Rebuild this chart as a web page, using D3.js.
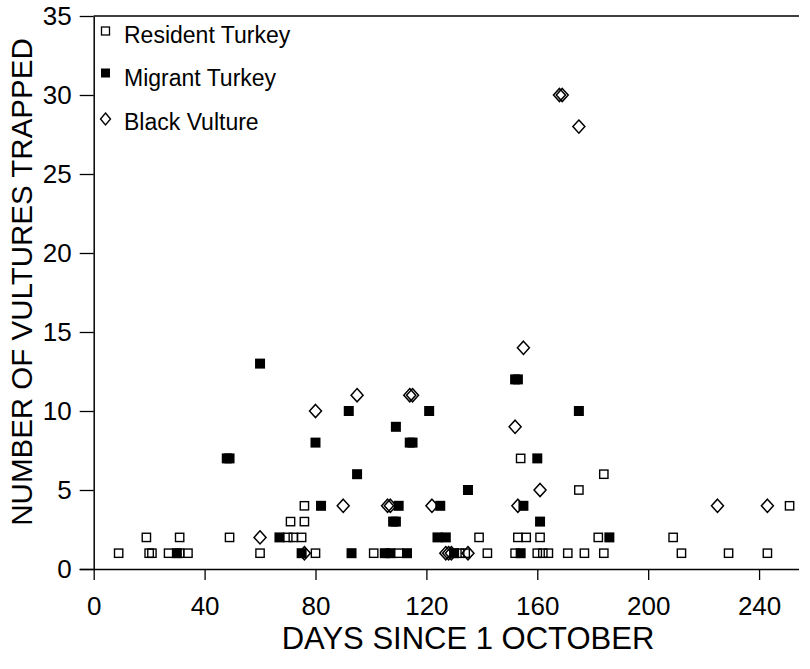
<!DOCTYPE html>
<html>
<head>
<meta charset="utf-8">
<script src="https://cdn.jsdelivr.net/npm/d3@7"></script>
<style>
  html, body { margin: 0; padding: 0; background: #fff; }
  svg { display: block; }
  text { font-family: "Liberation Sans", Arial, Helvetica, sans-serif; fill: #000; }
</style>
</head>
<body>
<svg id="chart" width="810" height="669"></svg>
<script>
// ---- data (day since 1 October, number trapped) ----
const residentTurkey = [
  [9,1],[19,2],[20,1],[21,1],[27,1],[31,2],[31,1],[34,1],[49,2],[60,1],
  [70,2],[72,2],[75,2],[71,3],[76,3],[76,4],[80,1],[101,1],[110,1],[132,1],
  [134,1],[139,2],[142,1],[152,1],[153,2],[156,2],[154,7],[160,1],[161,2],[162,1],
  [164,1],[171,1],[175,5],[177,1],[182,2],[184,1],[184,6],[209,2],[212,1],[229,1],
  [243,1],[251,4]
];
const migrantTurkey = [
  [30,1],[48,7],[49,7],[60,13],[67,2],[75,1],[80,8],[82,4],[92,10],[93,1],
  [95,6],[105,1],[107,1],[108,3],[109,3],[109,9],[110,4],[113,1],[114,8],[115,8],
  [121,10],[124,2],[125,4],[127,2],[130,1],[135,5],[152,12],[153,12],[154,1],[155,4],
  [160,7],[161,3],[175,10],[186,2]
];
const blackVulture = [
  [60,2],[76,1],[80,10],[90,4],[95,11],[106,4],[107,4],[114,11],[115,11],[122,4],
  [127,1],[128,1],[129,1],[135,1],[152,9],[153,4],[155,14],[161,5],[168,30],[169,30],
  [175,28],[225,4],[243,4]
];
const xTicks = [0, 40, 80, 120, 160, 200, 240];
const yTicks = [0, 5, 10, 15, 20, 25, 30, 35];
const legendLabels = ["Resident Turkey", "Migrant Turkey", "Black Vulture"];
const xTitle = "DAYS SINCE 1 OCTOBER";
const yTitle = "NUMBER OF VULTURES TRAPPED";

// ---- layout ----
const svg = d3.select("#chart");
const mLeft = 93.7, mRight = 799, mTop = 16, mBottom = 569;
const x = d3.scaleLinear().domain([0, 254.4]).range([mLeft, mRight]);
const y = d3.scaleLinear().domain([0, 35]).range([mBottom, mTop]);
const font = "'Liberation Sans', Arial, Helvetica, sans-serif";

// top border line
svg.append("line")
  .attr("x1", mLeft).attr("x2", mRight).attr("y1", mTop).attr("y2", mTop)
  .attr("stroke", "#000").attr("stroke-width", 1.4);

// y axis
const yAxis = svg.append("g")
  .attr("transform", `translate(${mLeft},0)`)
  .call(d3.axisLeft(y).tickValues(yTicks).tickSize(14).tickSizeOuter(0).tickPadding(8));
yAxis.select(".domain").attr("stroke-width", 1.5);
yAxis.selectAll(".tick line").attr("stroke-width", 1.3);
yAxis.selectAll(".tick text").attr("font-size", 26).attr("font-family", font);

// x axis
const xAxis = svg.append("g")
  .attr("transform", `translate(0,${mBottom})`)
  .call(d3.axisBottom(x).tickValues(xTicks).tickSize(11).tickSizeOuter(0));
xAxis.select(".domain").attr("d", `M${mLeft - 14},0.5H${mRight}`).attr("stroke-width", 1.5);
xAxis.selectAll(".tick line").attr("stroke-width", 1.3);
xAxis.selectAll(".tick text").attr("font-size", 26).attr("font-family", font)
  .attr("y", 46).attr("dy", null);

// axis titles
svg.append("text")
  .attr("x", 468).attr("y", 649)
  .attr("text-anchor", "middle").attr("font-size", 31)
  .text(xTitle);
svg.append("text")
  .attr("transform", `translate(32,282) rotate(-90)`)
  .attr("text-anchor", "middle").attr("font-size", 29.5)
  .text(yTitle);

// markers
const sq = 8.3;      // open square side
const fsq = 10;      // filled square side
const dw = 6, dh = 6.6; // diamond half width / half height
const diamondPath = `M0,${-dh}L${dw},0L0,${dh}L${-dw},0Z`;

svg.append("g").selectAll("rect")
  .data(residentTurkey).join("rect")
  .attr("x", d => x(d[0]) - sq / 2).attr("y", d => y(d[1]) - sq / 2)
  .attr("width", sq).attr("height", sq)
  .attr("fill", "none").attr("stroke", "#000").attr("stroke-width", 1.4);

svg.append("g").selectAll("path")
  .data(blackVulture).join("path")
  .attr("d", diamondPath)
  .attr("transform", d => `translate(${x(d[0])},${y(d[1])})`)
  .attr("fill", "none").attr("stroke", "#000").attr("stroke-width", 1.5);

svg.append("g").selectAll("rect")
  .data(migrantTurkey).join("rect")
  .attr("x", d => x(d[0]) - fsq / 2).attr("y", d => y(d[1]) - fsq / 2)
  .attr("width", fsq).attr("height", fsq)
  .attr("fill", "#000");

// legend
const lg = svg.append("g");
const lgMarkX = 105.5, lgTextX = 124;
const lgRows = [
  { label: legendLabels[0], my: 31, ty: 43, type: "open" },
  { label: legendLabels[1], my: 73, ty: 86, type: "filled" },
  { label: legendLabels[2], my: 119, ty: 130, type: "diamond" }
];
lgRows.forEach(r => {
  if (r.type === "open") {
    lg.append("rect").attr("x", lgMarkX - 4).attr("y", r.my - 4).attr("width", 8).attr("height", 8)
      .attr("fill", "none").attr("stroke", "#000").attr("stroke-width", 1.3);
  } else if (r.type === "filled") {
    lg.append("rect").attr("x", lgMarkX - 4.5).attr("y", r.my - 4.5).attr("width", 9).attr("height", 9)
      .attr("fill", "#000");
  } else {
    lg.append("path").attr("d", `M0,-6L5,0L0,6L-5,0Z`)
      .attr("transform", `translate(${lgMarkX},${r.my})`)
      .attr("fill", "none").attr("stroke", "#000").attr("stroke-width", 1.4);
  }
  lg.append("text").attr("x", lgTextX).attr("y", r.ty)
    .attr("font-size", 23).text(r.label);
});
</script>
</body>
</html>
